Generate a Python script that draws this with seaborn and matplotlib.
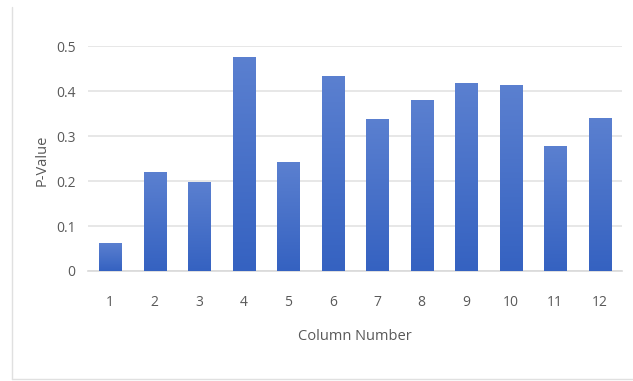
import numpy as np
import pandas as pd
import matplotlib
matplotlib.use("Agg")
import matplotlib.pyplot as plt
from matplotlib import font_manager
from matplotlib.lines import Line2D
from matplotlib.colors import LinearSegmentedColormap
import seaborn as sns

columns = ["1", "2", "3", "4", "5", "6", "7", "8", "9", "10", "11", "12"]
p_values = [0.062, 0.220, 0.198, 0.476, 0.242, 0.433, 0.338, 0.380, 0.418, 0.413, 0.278, 0.340]
y_ticks = [0, 0.1, 0.2, 0.3, 0.4, 0.5]
y_tick_labels = ["0", "0.1", "0.2", "0.3", "0.4", "0.5"]

sns.set_theme(style="white")
available = {f.name for f in font_manager.fontManager.ttflist}
family = "Liberation Sans Narrow" if "Liberation Sans Narrow" in available else "Open Sans"
plt.rcParams["font.family"] = [family, "DejaVu Sans"]

df = pd.DataFrame({"Column Number": columns, "P-Value": p_values})

fig = plt.figure(figsize=(6.33, 3.81), dpi=100)
ax = fig.add_axes([88 / 633, 1 - 271 / 381, (622 - 88) / 633, (271 - 46) / 381])

sns.barplot(data=df, x="Column Number", y="P-Value", color="#4472C4",
            width=0.5, ax=ax, zorder=3)

# vertical gradient fill on each bar
cmap = LinearSegmentedColormap.from_list("bar", ["#3562c1", "#5b80d0"])
grad = np.linspace(0, 1, 256).reshape(-1, 1)
for patch in list(ax.patches):
    x0, y0 = patch.get_x(), patch.get_y()
    w, h = patch.get_width(), patch.get_height()
    patch.set_facecolor("none")
    patch.set_edgecolor("none")
    im = ax.imshow(grad, extent=[x0, x0 + w, y0, y0 + h], origin="lower",
                   cmap=cmap, aspect="auto", zorder=3)
    im.set_clip_path(patch)

ax.set_xlim(-0.5, 11.5)
ax.set_ylim(0, 0.5)
ax.set_yticks(y_ticks)
ax.set_yticklabels(y_tick_labels)
ax.yaxis.grid(True, color="#e3e3e3", linewidth=1.2, zorder=0)
ax.xaxis.grid(False)
for side in ["top", "right", "left"]:
    ax.spines[side].set_visible(False)
ax.spines["bottom"].set_color("#d9d9d9")
ax.spines["bottom"].set_linewidth(1.2)
ax.tick_params(axis="both", length=0, labelsize=10, labelcolor="#595959")
ax.tick_params(axis="x", pad=17)
ax.tick_params(axis="y", pad=9)

ax.set_xlabel("")
ax.set_ylabel("")
fig.text(355 / 633, 1 - 337 / 381, "Column Number", ha="center", va="center",
         fontsize=10.5, color="#595959")
fig.text(42 / 633, 1 - 160 / 381, "P-Value", ha="center", va="center",
         rotation=90, fontsize=10.5, color="#595959")

# chart area frame edges
fig.add_artist(Line2D([12 / 633, 12 / 633], [1 - 7 / 381, 1 - 379 / 381],
                      transform=fig.transFigure, color="#e0e0e0", linewidth=1))
fig.add_artist(Line2D([12 / 633, 1.0], [1 - 379 / 381, 1 - 379 / 381],
                      transform=fig.transFigure, color="#e0e0e0", linewidth=1))

fig.savefig("out.png", dpi=100, facecolor="white")
